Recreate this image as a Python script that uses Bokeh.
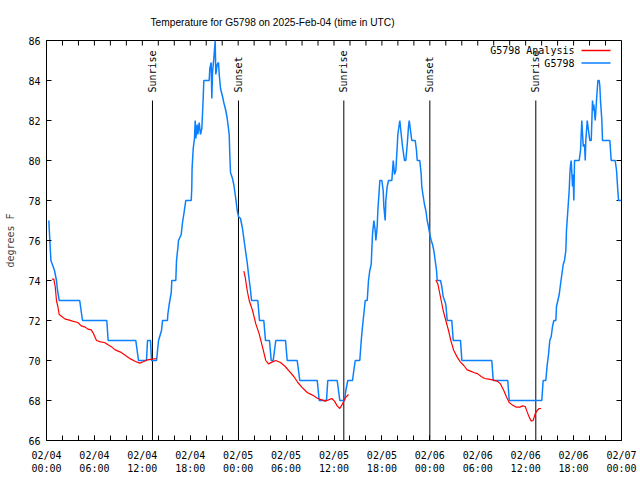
import numpy as np
import pandas as pd
from bokeh.plotting import figure
from bokeh.models import Range1d, FixedTicker, DatetimeTickFormatter, Label
from bokeh.core.properties import value
from bokeh.embed import file_html
from bokeh.resources import INLINE

# ---------------- data (hours since 2025-02-04 00:00 UTC, degrees F) ----------------
obs_hours = [
    0.29, 0.42, 0.55, 0.83, 1.00, 1.25, 1.38, 1.60, 4.16, 4.33,
    4.51, 7.55, 7.72, 11.18, 11.35, 11.52, 12.52, 12.65, 13.02, 13.15,
    13.78, 14.03, 14.40, 14.53, 15.15, 15.19, 15.36, 15.62, 15.69, 16.19,
    16.28, 16.44, 16.53, 16.87, 17.03, 17.19, 17.44, 18.12, 18.19, 18.23,
    18.37, 18.53, 18.62, 18.70, 18.87, 18.95, 19.12, 19.28, 19.45, 19.62,
    19.70, 20.37, 20.45, 20.62, 20.70, 20.79, 20.95, 21.12, 21.20, 21.38,
    21.54, 21.63, 21.79, 22.04, 22.20, 22.45, 22.63, 22.88, 22.95, 23.04,
    23.29, 23.45, 23.70, 23.88, 24.04, 24.29, 24.54, 24.71, 24.88, 25.13,
    25.33, 25.55, 25.67, 26.46, 26.67, 27.21, 27.42, 27.92, 28.14, 28.39,
    28.71, 29.93, 30.14, 31.39, 31.72, 33.90, 34.15, 35.06, 35.22, 36.40,
    36.73, 37.32, 37.48, 37.73, 38.32, 38.48, 38.66, 39.23, 39.41, 39.57,
    39.73, 39.91, 40.16, 40.32, 40.48, 40.66, 40.73, 40.82, 40.99, 41.16,
    41.24, 41.41, 41.49, 41.66, 41.74, 41.99, 42.16, 42.24, 42.41, 42.49,
    42.66, 42.83, 43.24, 43.42, 43.58, 43.74, 43.92, 43.99, 44.17, 44.24,
    44.42, 44.58, 44.83, 44.99, 45.17, 45.33, 45.42, 45.58, 45.74, 46.17,
    46.33, 46.42, 46.74, 46.92, 46.99, 47.17, 47.33, 47.50, 47.67, 47.83,
    48.00, 48.17, 48.34, 48.50, 48.67, 48.84, 48.92, 49.34, 49.50, 49.67,
    49.84, 50.00, 50.18, 50.75, 50.84, 50.93, 51.84, 52.01, 55.76, 55.94,
    57.76, 57.94, 62.02, 62.19, 62.52, 62.70, 62.86, 63.02, 63.20, 63.36,
    63.53, 63.78, 63.86, 64.03, 64.20, 64.36, 64.53, 64.70, 64.86, 65.03,
    65.11, 65.28, 65.45, 65.53, 65.62, 65.70, 65.87, 65.95, 66.03, 66.12,
    66.70, 66.87, 67.03, 67.21, 67.37, 67.46, 67.53, 67.71, 67.87, 68.03,
    68.21, 68.37, 68.46, 68.53, 68.71, 68.87, 69.04, 69.21, 69.29, 69.37,
    69.54, 69.62, 70.54, 70.71, 71.21, 71.38, 71.54, 71.63, 71.96,
]
obs_temp = [
    77.0, 76.0, 75.0, 74.7, 74.5, 74.0, 73.5, 73.0, 73.0, 72.5,
    72.0, 72.0, 71.0, 71.0, 70.5, 70.0, 70.0, 71.0, 71.0, 70.0,
    70.0, 71.0, 71.5, 72.0, 72.0, 72.3, 72.8, 73.4, 74.0, 74.0,
    75.0, 75.6, 76.0, 76.3, 76.9, 77.3, 78.0, 78.0, 78.6, 79.6,
    80.6, 81.1, 82.0, 81.1, 81.8, 81.3, 81.9, 81.3, 81.6, 83.1,
    84.0, 84.0, 84.6, 84.9, 83.1, 84.4, 85.1, 86.0, 84.3, 84.8,
    84.9, 84.3, 83.6, 83.2, 82.9, 82.5, 82.1, 81.3, 80.3, 79.4,
    79.1, 78.8, 78.1, 77.5, 77.2, 77.1, 76.6, 76.1, 75.6, 74.9,
    74.2, 73.5, 73.0, 73.0, 72.0, 72.0, 71.0, 71.0, 70.0, 70.0,
    71.0, 71.0, 70.0, 70.0, 69.0, 69.0, 68.0, 68.0, 69.0, 69.0,
    68.0, 68.0, 68.5, 69.0, 69.0, 69.5, 70.0, 70.0, 71.0, 71.7,
    72.3, 73.0, 73.0, 74.0, 74.5, 74.8, 75.5, 76.3, 77.0, 76.5,
    76.0, 76.7, 77.5, 78.5, 79.0, 79.0, 78.5, 77.7, 77.0, 78.0,
    78.7, 79.0, 79.0, 80.0, 79.3, 79.5, 80.7, 81.3, 81.8, 82.0,
    81.3, 80.7, 80.0, 80.0, 80.8, 81.7, 82.0, 81.5, 81.0, 81.0,
    80.5, 80.0, 80.0, 79.3, 78.7, 78.2, 77.8, 77.5, 77.0, 76.7,
    76.3, 76.0, 75.8, 75.5, 75.0, 74.5, 74.0, 74.0, 73.7, 73.2,
    73.0, 72.8, 72.0, 72.0, 71.5, 71.0, 71.0, 70.0, 70.0, 69.0,
    69.0, 68.0, 68.0, 69.0, 69.0, 69.8, 70.3, 71.0, 71.2, 71.7,
    72.0, 72.0, 72.7, 73.0, 73.3, 73.8, 74.3, 74.8, 75.0, 75.5,
    76.5, 77.5, 78.5, 79.3, 79.8, 80.0, 78.7, 79.3, 78.0, 80.0,
    80.0, 80.5, 82.0, 80.7, 80.8, 80.0, 81.0, 82.0, 81.5, 81.0,
    81.0, 83.0, 82.5, 82.8, 82.0, 83.0, 84.0, 84.0, 83.7, 83.0,
    82.0, 81.0, 81.0, 80.0, 80.0, 79.5, 78.5, 78.0, 78.0,
]

ana1_hours = [0.66, 0.91, 1.09, 1.25, 1.42, 1.59, 1.92, 2.34, 2.75, 3.26,
              3.92, 4.35, 4.85, 5.17, 5.60, 5.85, 6.26, 6.76, 7.26, 7.76,
              8.18, 8.60, 9.27, 9.89, 10.52, 11.14, 11.68, 12.18, 12.61, 13.27, 13.77]
ana1_temp = [74.07, 74.07, 73.7, 73.0, 72.7, 72.3, 72.2, 72.07, 72.03, 71.97,
             71.9, 71.73, 71.67, 71.57, 71.53, 71.37, 71.0, 70.93, 70.9, 70.77,
             70.67, 70.53, 70.42, 70.25, 70.08, 69.95, 69.87, 69.95, 70.03, 70.07, 70.1]

ana2_hours = [24.71, 24.88, 25.13, 25.38, 25.80, 26.21, 26.63, 27.05, 27.46, 27.80,
              28.30, 28.71, 29.30, 29.89, 30.47, 30.97, 31.47, 31.97, 32.64, 33.31,
              33.97, 34.47, 34.90, 35.31, 35.73, 36.06, 36.40, 36.73, 37.07, 37.40, 37.82]
ana2_temp = [74.47, 74.17, 73.5, 73.0, 72.5, 71.83, 71.33, 70.67, 70.0, 69.83,
             69.93, 70.0, 69.9, 69.7, 69.43, 69.2, 68.9, 68.67, 68.4, 68.27,
             68.1, 68.03, 67.97, 68.03, 68.1, 67.97, 67.73, 67.6, 67.83, 68.13, 68.3]

ana3_hours = [48.75, 49.00, 49.17, 49.42, 49.67, 50.00, 50.34, 50.68, 51.00, 51.43,
              51.84, 52.25, 52.68, 53.09, 53.51, 54.01, 54.43, 54.85, 55.35, 55.85,
              56.44, 56.85, 57.26, 57.60, 57.94, 58.35, 58.77, 59.27, 59.61, 59.94,
              60.19, 60.44, 60.69, 60.94, 61.19, 61.44, 61.69, 61.94]
ana3_temp = [74.03, 73.83, 73.5, 73.0, 72.5, 72.0, 71.5, 70.92, 70.5, 70.17,
             69.92, 69.75, 69.53, 69.47, 69.4, 69.33, 69.2, 69.1, 69.07, 69.03,
             68.97, 68.83, 68.5, 68.17, 67.9, 67.77, 67.67, 67.67, 67.73, 67.7,
             67.43, 67.17, 66.97, 67.0, 67.33, 67.5, 67.6, 67.6]

event_hours = [13.27, 24.04, 37.23, 48.00, 61.27]
event_names = ["Sunrise", "Sunset", "Sunrise", "Sunset", "Sunrise"]
event_top = 83.0

y_ticks = [66, 68, 70, 72, 74, 76, 78, 80, 82, 84, 86]
x_major_hours = list(range(0, 73, 6))
x_minor_hours = list(range(0, 73, 2))

title_text = "Temperature for G5798 on 2025-Feb-04 (time in UTC)"
series_names = ["G5798 Analysis", "G5798"]

# ---------------- helpers ----------------
BASE = pd.Timestamp("2025-02-04 00:00")


def to_dt(hours):
    return BASE + pd.to_timedelta(np.asarray(hours, dtype=float), unit="h")


def to_ms(h):
    return (BASE + pd.Timedelta(hours=h)).timestamp() * 1000.0


MONO = "DejaVu Sans Mono"
BLUE = "#0a80ff"
RED = "#ff0000"
TICK_LEN = 5

p = figure(width=640, height=480,
           x_axis_type="datetime",
           x_range=Range1d(to_ms(0), to_ms(72)),
           y_range=Range1d(66, 86),
           output_backend="svg", toolbar_location=None,
           min_border_left=46, min_border_right=19,
           min_border_top=40, min_border_bottom=40,
           background_fill_color="white", border_fill_color="white")

p.xgrid.visible = False
p.ygrid.visible = False
p.outline_line_color = "black"
p.outline_line_width = 1

# title
p.title.text = title_text
p.title.align = "left"
p.title.offset = 104
p.title.text_font = "Liberation Sans"
p.title.text_font_size = "10.2px"
p.title.text_font_style = "normal"
p.title.text_color = "black"
p.title.standoff = 25

# ---------------- axes ----------------
x_ticker = FixedTicker(ticks=[to_ms(h) for h in x_major_hours],
                       minor_ticks=[to_ms(h) for h in x_minor_hours])
y_ticker = FixedTicker(ticks=y_ticks, minor_ticks=[])

fmt = "%m/%d\n%H:%M"
x_formatter = DatetimeTickFormatter(milliseconds=fmt, seconds=fmt, minsec=fmt, minutes=fmt,
                                    hourmin=fmt, hours=fmt, days=fmt, months=fmt, years=fmt)


def style_axis(ax):
    ax.major_tick_in = TICK_LEN
    ax.major_tick_out = 0
    ax.minor_tick_in = TICK_LEN
    ax.minor_tick_out = 0
    ax.axis_line_color = "black"
    ax.major_tick_line_color = "black"
    ax.minor_tick_line_color = "black"
    ax.major_label_text_font = MONO
    ax.major_label_text_font_size = "10px"
    ax.major_label_text_color = "black"


xa = p.xaxis[0]
xa.ticker = x_ticker
xa.formatter = x_formatter
style_axis(xa)
xa.major_label_standoff = 9

ya = p.yaxis[0]
ya.ticker = y_ticker
style_axis(ya)
ya.major_label_standoff = 6
ya.axis_label = "degrees F"
ya.axis_label_text_font = MONO
ya.axis_label_text_font_size = "10px"
ya.axis_label_text_font_style = "normal"
ya.axis_label_standoff = 9

# mirrored inward ticks on the top and right borders (gnuplot style)
p.ray(x=[to_ms(h) for h in x_minor_hours], y=[86] * len(x_minor_hours),
      length=TICK_LEN, length_units="screen", angle=-np.pi / 2,
      line_color="black", line_width=1)
p.ray(x=[to_ms(72)] * len(y_ticks), y=y_ticks,
      length=TICK_LEN, length_units="screen", angle=np.pi,
      line_color="black", line_width=1)

# ---------------- event lines ----------------
ev_x = to_dt(event_hours)
p.segment(x0=ev_x, y0=[66] * len(ev_x), x1=ev_x, y1=[event_top] * len(ev_x),
          line_color="black", line_width=1)
p.text(x=ev_x, y=[event_top + 0.4] * len(ev_x), text=event_names, angle=np.pi / 2,
       text_align="left", text_baseline="middle", text_color="black",
       text_font=value(MONO), text_font_size="10px")

# ---------------- series ----------------
p.line(to_dt(obs_hours), obs_temp, line_color=BLUE, line_width=1.5)
for hh, tt in [(ana1_hours, ana1_temp), (ana2_hours, ana2_temp), (ana3_hours, ana3_temp)]:
    p.line(to_dt(hh), tt, line_color=RED, line_width=1.2)

# ---------------- legend (gnuplot style: text right, sample line on right) ----------------
leg_rows_y = [85.5, 84.875]
leg_colors = [RED, BLUE]
for name, yy, col in zip(series_names, leg_rows_y, leg_colors):
    p.add_layout(Label(x=to_ms(66.11), y=yy, text=name, text_align="right",
                       text_baseline="middle", text_font=MONO, text_font_size="10px",
                       text_color="black"))
    p.segment(x0=[to_ms(66.99)], y0=[yy], x1=[to_ms(70.62)], y1=[yy],
              line_color=col, line_width=1.5)

open("out.html", "w").write(file_html(p, INLINE))
